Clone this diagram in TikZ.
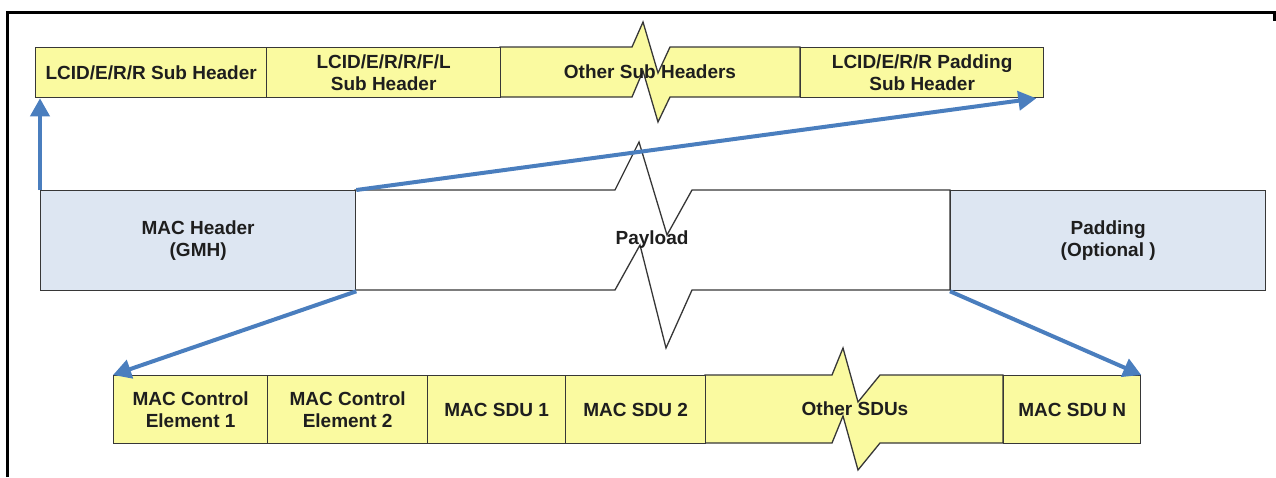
\documentclass[tikz,border=0pt]{standalone}
\usepackage{fontspec}
\setmainfont{Liberation Sans}
\usetikzlibrary{arrows.meta}
\definecolor{cellyellow}{RGB}{250,250,160}
\definecolor{hdrblue}{RGB}{221,230,242}
\definecolor{arrowblue}{RGB}{74,126,190}
\definecolor{edge}{RGB}{55,55,55}
\definecolor{ink}{RGB}{30,30,30}
\begin{document}
\begin{tikzpicture}[x=1pt,y=-1pt,
  lbl/.style={font=\bfseries\fontsize{19}{22}\selectfont, text=ink, align=center},
  cell/.style={lbl, draw=edge, line width=1.3pt, fill=cellyellow, inner sep=0pt, anchor=north west},
  hdr/.style={cell, fill=hdrblue},
  brk/.style={draw=edge, line width=1.3pt, line join=miter},
  flow/.style={draw=arrowblue, line width=4pt, -{Triangle[length=18pt,width=19pt]}},
  frameline/.style={line width=3pt, draw=black, line join=miter}]
\useasboundingbox (0,0) rectangle (1276,477);

% outer frame
\draw[frameline] (7,477) -- (7,12) -- (1274,12) -- (1274,21);

% sub-header row
\path[brk, fill=cellyellow] (500,47) -- (632,47) -- (643,22) -- (658,73) -- (670,47) -- (800,47)
  -- (800,97) -- (670,97) -- (658,122) -- (643,71) -- (632,97) -- (500,97) -- cycle;
\node[lbl] (sh3) at (650,72) {Other Sub Headers};
\node[cell, minimum width=231pt, minimum height=50pt] (sh1) at (35,47) {LCID/E/R/R Sub Header};
\node[cell, minimum width=234pt, minimum height=50pt] (sh2) at (266,47) {LCID/E/R/R/F/L\\Sub Header};
\node[cell, minimum width=243pt, minimum height=50pt] (sh4) at (800,47) {LCID/E/R/R Padding\\Sub Header};

% MAC PDU row
\path[brk, fill=white] (355,190) -- (615,190) -- (639,142) -- (667,235) -- (692,190) -- (950,190)
  -- (950,290) -- (692,290) -- (666,348) -- (640,245) -- (615,290) -- (355,290) -- cycle;
\node[lbl] (pl) at (652,240) {Payload};
\node[hdr, minimum width=315pt, minimum height=100pt] (mh) at (40,190) {MAC Header\\(GMH)};
\node[hdr, minimum width=315pt, minimum height=100pt] (pad) at (950,190) {Padding\\(Optional )};

% payload contents row
\path[brk, fill=cellyellow] (705,375) -- (832,375) -- (843,348) -- (858,402) -- (880,375) -- (1003,375)
  -- (1003,443) -- (880,443) -- (858,470) -- (843,416) -- (832,443) -- (705,443) -- cycle;
\node[lbl] (osdu) at (855,409) {Other SDUs};
\node[cell, minimum width=154pt, minimum height=68pt] (ce1) at (113,375) {MAC Control\\Element 1};
\node[cell, minimum width=160pt, minimum height=68pt] (ce2) at (267,375) {MAC Control\\Element 2};
\node[cell, minimum width=138pt, minimum height=68pt] (sdu1) at (427,375) {MAC SDU 1};
\node[cell, minimum width=140pt, minimum height=68pt] (sdu2) at (565,375) {MAC SDU 2};
\node[cell, minimum width=137pt, minimum height=68pt] (sdun) at (1003,375) {MAC SDU N};

% expansion arrows
\draw[flow] (mh.north west) -- (mh.north west |- sh1.south);
\draw[flow] (mh.north east) -- ([xshift=-8pt]sh4.south east);
\draw[flow] (mh.south east) -- (ce1.north west);
\draw[flow] (pad.south west) -- (sdun.north east);
\end{tikzpicture}
\end{document}
